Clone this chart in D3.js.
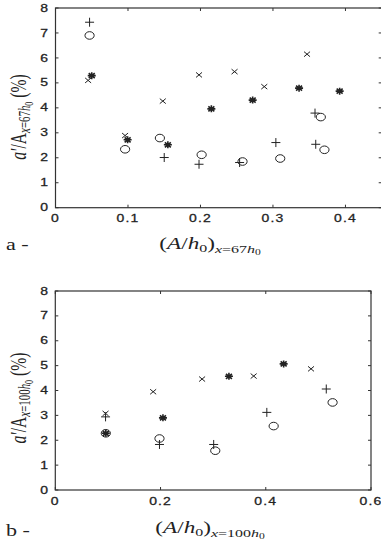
<!DOCTYPE html>
<html>
<head>
<meta charset="utf-8">
<script src="https://cdn.jsdelivr.net/npm/d3@7"></script>
<style>
  body { margin: 0; background: #fff; }
  svg text { fill: #222; }
</style>
</head>
<body>
<svg id="chart" width="381" height="543"></svg>
<script>
// panel a: x = (A/h0) at x=67h0
const aCross = [[0.045, 5.1], [0.096, 2.89], [0.148, 4.27], [0.198, 5.32], [0.247, 5.45], [0.288, 4.85], [0.347, 6.15]];
const aStar = [[0.05, 5.29], [0.0995, 2.72], [0.155, 2.52], [0.215, 3.96], [0.272, 4.31], [0.336, 4.79], [0.392, 4.67]];
const aPlus = [[0.047, 7.43], [0.15, 2.01], [0.198, 1.74], [0.254, 1.81], [0.304, 2.61], [0.358, 3.79], [0.359, 2.54]];
const aCircle = [[0.047, 6.9], [0.096, 2.34], [0.144, 2.79], [0.2016, 2.12], [0.258, 1.85], [0.31, 1.97], [0.366, 3.63], [0.371, 2.32]];

// panel b: x = (A/h0) at x=100h0
const bCross = [[0.0955, 3.08], [0.186, 3.95], [0.279, 4.46], [0.377, 4.58], [0.486, 4.87]];
const bStar = [[0.096, 2.28], [0.2046, 2.9], [0.33, 4.57], [0.434, 5.07]];
const bPlus = [[0.0955, 2.94], [0.198, 1.83], [0.301, 1.83], [0.402, 3.12], [0.515, 4.06]];
const bCircle = [[0.096, 2.28], [0.198, 2.07], [0.304, 1.58], [0.415, 2.57], [0.527, 3.52]];

const aXTicks = [0, 0.1, 0.2, 0.3, 0.4];
const bXTicks = [0, 0.2, 0.4, 0.6];
const yTicks = [0, 1, 2, 3, 4, 5, 6, 7, 8];

const svg = d3.select("#chart");
const ink = "#222";
const serif = "Liberation Serif, Times New Roman, serif";
const sans = "Liberation Sans, Arial, sans-serif";
const stretch = 1.4; // the scanned figure is squashed vertically, text looks wide

function drawPanel(opt) {
    const x = d3.scaleLinear().domain(opt.xDomain).range([opt.left, opt.right]);
    const y = d3.scaleLinear().domain([0, 8]).range([opt.bottom, opt.top]);
    const g = svg.append("g");

    // frame
    g.append("rect")
        .attr("x", opt.left).attr("y", opt.top)
        .attr("width", opt.right - opt.left).attr("height", opt.bottom - opt.top)
        .attr("fill", "none").attr("stroke", "#333").attr("stroke-width", 1.2);

    // inward ticks on all sides
    const tl = 3;
    g.selectAll(".xt").data(opt.xTicks).enter().append("path")
        .attr("d", d => `M${x(d)},${opt.bottom}v${-tl}M${x(d)},${opt.top}v${tl}`)
        .attr("stroke", "#333");
    g.selectAll(".yt").data(yTicks).enter().append("path")
        .attr("d", d => `M${opt.left},${y(d)}h${tl}M${opt.right},${y(d)}h${-tl}`)
        .attr("stroke", "#333");

    // tick labels
    g.selectAll(".xl").data(opt.xTicks).enter().append("text")
        .attr("transform", d => `translate(${x(d)},${opt.bottom + 14.5}) scale(${stretch},1)`)
        .attr("text-anchor", "middle")
        .style("font-family", sans)
        .style("font-size", "10px").style("letter-spacing", "0.8px")
        .style("stroke", ink).style("stroke-width", 0.25)
        .text(d => d === 0 ? "0" : d3.format(".1f")(d));
    g.selectAll(".yl").data(yTicks).enter().append("text")
        .attr("transform", d => `translate(48,${y(d) + 3.6}) scale(${stretch},1)`)
        .attr("text-anchor", "end")
        .style("font-family", sans)
        .style("font-size", "10px")
        .style("stroke", ink).style("stroke-width", 0.25)
        .text(d => d);

    // markers
    const m = g.append("g").attr("fill", "none").attr("stroke", ink).attr("stroke-width", 1);
    m.selectAll(".cr").data(opt.cross).enter().append("path")
        .attr("transform", d => `translate(${x(d[0])},${y(d[1])})`)
        .attr("d", "M-3,-2.5L3,2.5M-3,2.5L3,-2.5");
    m.selectAll(".pl").data(opt.plus).enter().append("path")
        .attr("transform", d => `translate(${x(d[0])},${y(d[1])})`)
        .attr("d", "M-4.5,0H4.5M0,-4.5V4.5");
    m.selectAll(".ci").data(opt.circle).enter().append("ellipse")
        .attr("cx", d => x(d[0])).attr("cy", d => y(d[1]))
        .attr("rx", 4.6).attr("ry", 3.8);
    m.selectAll(".st").data(opt.star).enter().append("path")
        .attr("transform", d => `translate(${x(d[0])},${y(d[1])})`)
        .attr("stroke-width", 1.6)
        .attr("d", "M-4,0H4M0,-3.5V3.5M-3,-2.5L3,2.5M-3,2.5L3,-2.5");

    // x-axis label
    const xl = g.append("text")
        .attr("transform", `translate(${opt.xLabelX},${opt.xLabelY}) scale(1.45,1)`)
        .attr("text-anchor", "middle")
        .style("font-family", serif)
        .style("font-size", "16px");
    xl.append("tspan").text("(");
    xl.append("tspan").style("font-style", "italic").text("A");
    xl.append("tspan").text("/");
    xl.append("tspan").style("font-style", "italic").text("h");
    xl.append("tspan").attr("dy", 3).style("font-size", "11px").text("0");
    xl.append("tspan").attr("dy", -3).text(")");
    const xs = xl.append("tspan").attr("dy", 4).style("font-size", "11px");
    xs.append("tspan").style("font-style", "italic").text("x");
    xs.append("tspan").text("=" + opt.station);
    xs.append("tspan").style("font-style", "italic").text("h");
    xl.append("tspan").attr("dy", 2).style("font-size", "8px").text("0");

    // panel tag
    g.append("text")
        .attr("transform", `translate(6,${opt.tagY}) scale(1.3,1)`)
        .style("font-family", serif)
        .style("font-size", "17px")
        .text(opt.tag);

    // y-axis label
    const yl = g.append("text")
        .attr("transform", `translate(26,${opt.yLabelY}) rotate(-90) scale(0.68,1)`)
        .attr("text-anchor", "middle")
        .style("font-family", serif)
        .style("font-size", "23px");
    yl.append("tspan").style("font-style", "italic").text("a′");
    yl.append("tspan").text("/A");
    const ys = yl.append("tspan").attr("dy", 4).style("font-size", "16px");
    ys.append("tspan").style("font-style", "italic").text("x");
    ys.append("tspan").text("=" + opt.station);
    ys.append("tspan").style("font-style", "italic").text("h");
    yl.append("tspan").attr("dy", 3).style("font-size", "12px").text("0");
    yl.append("tspan").attr("dy", -7).text(" (%)");
}

drawPanel({
    xDomain: [0, 0.45], left: 55.5, right: 381.7, top: 8, bottom: 207.7,
    xTicks: aXTicks, cross: aCross, star: aStar, plus: aPlus, circle: aCircle,
    station: "67", tag: "a -", tagY: 250, xLabelX: 210, xLabelY: 249, yLabelY: 117
});

drawPanel({
    xDomain: [0, 0.6], left: 55.3, right: 371, top: 291, bottom: 490,
    xTicks: bXTicks, cross: bCross, star: bStar, plus: bPlus, circle: bCircle,
    station: "100", tag: "b -", tagY: 536, xLabelX: 210, xLabelY: 533, yLabelY: 398
});
</script>
</body>
</html>
